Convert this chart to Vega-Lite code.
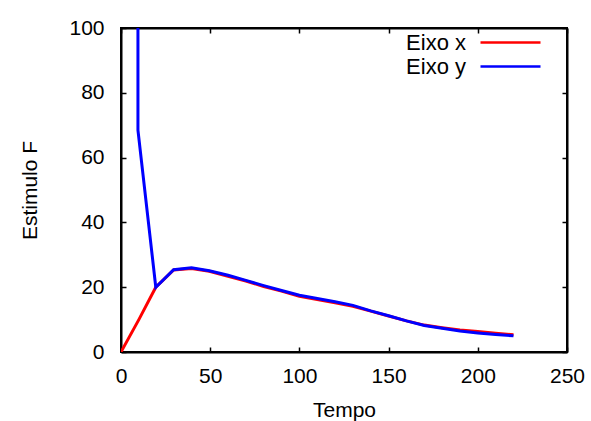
{
  "$schema": "https://vega.github.io/schema/vega-lite/v6.json",
  "width": 446,
  "height": 324,
  "autosize": {"type": "none"},
  "padding": {"left": 121, "top": 28, "right": 24, "bottom": 69},
  "background": "white",
  "config": {
    "view": {"stroke": "black", "strokeWidth": 2},
    "font": "Liberation Sans",
    "axis": {
      "grid": false,
      "domainColor": "black",
      "domainWidth": 2,
      "tickColor": "black",
      "tickWidth": 1.5,
      "tickSize": -5,
      "labelFont": "Liberation Sans",
      "labelFontSize": 21,
      "labelColor": "black",
      "titleFont": "Liberation Sans",
      "titleFontSize": 21,
      "titleFontWeight": "normal",
      "titleColor": "black",
      "labelOverlap": false,
      "labelFlush": false
    }
  },
  "data": {
    "values": [
      {"t": 0, "v": 0, "s": "Eixo x"},
      {"t": 10, "v": 10, "s": "Eixo x"},
      {"t": 19.5, "v": 20, "s": "Eixo x"},
      {"t": 29.5, "v": 25.3, "s": "Eixo x"},
      {"t": 39.5, "v": 25.8, "s": "Eixo x"},
      {"t": 49.5, "v": 24.9, "s": "Eixo x"},
      {"t": 60, "v": 23.4, "s": "Eixo x"},
      {"t": 70, "v": 21.9, "s": "Eixo x"},
      {"t": 80, "v": 20.2, "s": "Eixo x"},
      {"t": 90, "v": 18.8, "s": "Eixo x"},
      {"t": 100, "v": 17.2, "s": "Eixo x"},
      {"t": 110, "v": 16.2, "s": "Eixo x"},
      {"t": 120, "v": 15.2, "s": "Eixo x"},
      {"t": 130, "v": 14.1, "s": "Eixo x"},
      {"t": 140, "v": 12.6, "s": "Eixo x"},
      {"t": 150, "v": 11.1, "s": "Eixo x"},
      {"t": 160, "v": 9.6, "s": "Eixo x"},
      {"t": 170, "v": 8.3, "s": "Eixo x"},
      {"t": 180, "v": 7.5, "s": "Eixo x"},
      {"t": 190, "v": 6.8, "s": "Eixo x"},
      {"t": 200, "v": 6.3, "s": "Eixo x"},
      {"t": 210, "v": 5.8, "s": "Eixo x"},
      {"t": 220, "v": 5.3, "s": "Eixo x"},
      {"t": 9.5, "v": 250, "s": "Eixo y"},
      {"t": 9.5, "v": 68.5, "s": "Eixo y"},
      {"t": 19.5, "v": 20, "s": "Eixo y"},
      {"t": 29.5, "v": 25.4, "s": "Eixo y"},
      {"t": 39.5, "v": 26, "s": "Eixo y"},
      {"t": 49.5, "v": 25.1, "s": "Eixo y"},
      {"t": 60, "v": 23.7, "s": "Eixo y"},
      {"t": 70, "v": 22.1, "s": "Eixo y"},
      {"t": 80, "v": 20.5, "s": "Eixo y"},
      {"t": 90, "v": 19, "s": "Eixo y"},
      {"t": 100, "v": 17.5, "s": "Eixo y"},
      {"t": 110, "v": 16.5, "s": "Eixo y"},
      {"t": 120, "v": 15.5, "s": "Eixo y"},
      {"t": 130, "v": 14.4, "s": "Eixo y"},
      {"t": 140, "v": 12.7, "s": "Eixo y"},
      {"t": 150, "v": 11.2, "s": "Eixo y"},
      {"t": 160, "v": 9.6, "s": "Eixo y"},
      {"t": 170, "v": 8.2, "s": "Eixo y"},
      {"t": 180, "v": 7.3, "s": "Eixo y"},
      {"t": 190, "v": 6.5, "s": "Eixo y"},
      {"t": 200, "v": 5.9, "s": "Eixo y"},
      {"t": 210, "v": 5.4, "s": "Eixo y"},
      {"t": 220, "v": 5.0, "s": "Eixo y"}
    ]
  },
  "layer": [
    {
      "mark": {"type": "line", "strokeWidth": 3, "clip": true},
      "encoding": {
        "x": {
          "field": "t", "type": "quantitative",
          "scale": {"domain": [0, 250], "nice": false},
          "axis": {
            "orient": "bottom",
            "values": [0, 50, 100, 150, 200, 250],
            "title": "Tempo",
            "labelPadding": 18,
            "titleBaseline": "top",
            "titleY": 47,
            "titleX": 223
          }
        },
        "y": {
          "field": "v", "type": "quantitative",
          "scale": {"domain": [0, 100], "nice": false},
          "axis": {
            "orient": "left",
            "values": [0, 20, 40, 60, 80, 100],
            "title": "Estimulo F",
            "labelPadding": 22,
            "titleX": -91,
            "titleY": 162,
            "titleAngle": -90,
            "titleAlign": "center",
            "titleBaseline": "middle"
          }
        },
        "color": {
          "field": "s", "type": "nominal",
          "scale": {"domain": ["Eixo x", "Eixo y"], "range": ["#ff0000", "#0000ff"]},
          "legend": {
            "title": null,
            "orient": "none",
            "legendX": 378,
            "legendY": 3,
            "padding": 0,
            "symbolType": "M-3,0H3",
            "symbolSize": 400,
            "symbolStrokeWidth": 2.5,
            "symbolFillColor": "transparent",
            "labelAlign": "right",
            "labelOffset": -56,
            "labelFontSize": 22,
            "labelFont": "Liberation Sans",
            "labelColor": "black",
            "rowPadding": 1,
            "labelLimit": 0
          }
        }
      }
    },
    {
      "mark": {"type": "line", "opacity": 0, "clip": true},
      "encoding": {
        "x": {
          "field": "t", "type": "quantitative",
          "axis": {"orient": "top", "values": [0, 50, 100, 150, 200, 250], "labels": false, "title": null}
        },
        "y": {
          "field": "v", "type": "quantitative",
          "axis": {"orient": "right", "values": [0, 20, 40, 60, 80, 100], "labels": false, "title": null}
        },
        "detail": {"field": "s", "type": "nominal"}
      }
    }
  ],
  "resolve": {"axis": {"x": "independent", "y": "independent"}}
}
